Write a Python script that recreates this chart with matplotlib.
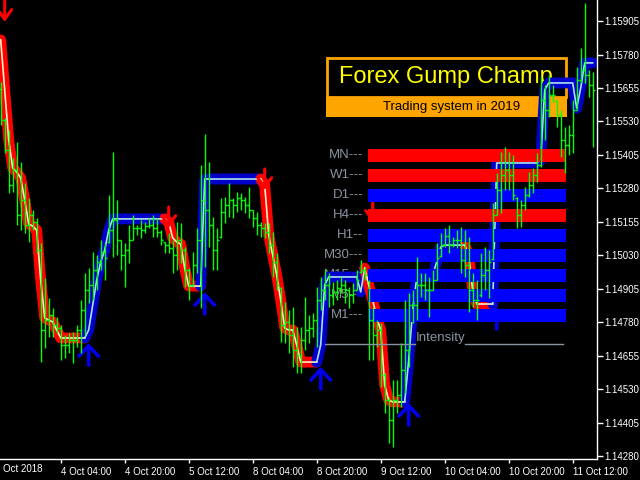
import matplotlib
matplotlib.use("Agg")
import matplotlib.pyplot as plt
from matplotlib.patches import Rectangle
import numpy as np

plt.rcParams['font.family'] = ['Liberation Sans', 'DejaVu Sans']

# EURUSD H1 bars (high / low / open / close)
highs = [1.15678, 1.15543, 1.15498, 1.15394, 1.15453, 1.15379, 1.15300, 1.15244, 1.15199, 1.15169,
         1.15076, 1.14945, 1.14870, 1.14833, 1.14799, 1.14769, 1.14732, 1.14740, 1.14743, 1.14769,
         1.14863, 1.14964, 1.14982, 1.15042, 1.15031, 1.15087, 1.15076, 1.15255, 1.15416, 1.15237,
         1.15087, 1.15076, 1.15143, 1.15181, 1.15143, 1.15162, 1.15154, 1.15169, 1.15181, 1.15169,
         1.15124, 1.15080, 1.15113, 1.15087, 1.15154, 1.15151, 1.15061, 1.14982, 1.15042, 1.15132,
         1.15367, 1.15483, 1.15379, 1.15173, 1.15132, 1.15244, 1.15248, 1.15300, 1.15244, 1.15266,
         1.15263, 1.15248, 1.15285, 1.15199, 1.15192, 1.15154, 1.15151, 1.15151, 1.15117, 1.15039,
         1.14911, 1.14855, 1.14826, 1.14837, 1.14762, 1.14762, 1.14874, 1.14807, 1.14814, 1.14911,
         1.14949, 1.14975, 1.14964, 1.14930, 1.14938, 1.14949, 1.14938, 1.14911, 1.14926, 1.14975,
         1.15012, 1.14986, 1.14938, 1.14837, 1.14788, 1.14777, 1.14590, 1.14500, 1.14564, 1.14564,
         1.14702, 1.14863, 1.14889, 1.14900, 1.15024, 1.14964, 1.14964, 1.14949, 1.14975, 1.15076,
         1.15113, 1.15132, 1.15143, 1.15098, 1.15124, 1.15136, 1.15124, 1.15098, 1.14964, 1.14938,
         1.15039, 1.15061, 1.15050, 1.15225, 1.15337, 1.15416, 1.15435, 1.15416, 1.15405, 1.15248,
         1.15237, 1.15285, 1.15341, 1.15356, 1.15412, 1.15696, 1.15666, 1.15704, 1.15666, 1.15610,
         1.15573, 1.15509, 1.15517, 1.15610, 1.15734, 1.15805, 1.15973, 1.15722, 1.15715]
lows = [1.15517, 1.15412, 1.15263, 1.15266, 1.15143, 1.15124, 1.15113, 1.15080, 1.15124, 1.15039,
        1.14631, 1.14684, 1.14725, 1.14725, 1.14740, 1.14639, 1.14646, 1.14665, 1.14627, 1.14687,
        1.14665, 1.14732, 1.14852, 1.14863, 1.14900, 1.14975, 1.14938, 1.15076, 1.15024, 1.15031,
        1.14975, 1.14911, 1.15001, 1.15087, 1.15106, 1.15095, 1.15113, 1.15132, 1.15098, 1.15098,
        1.15068, 1.15039, 1.15039, 1.14964, 1.14975, 1.15001, 1.14911, 1.14863, 1.14911, 1.14964,
        1.14833, 1.14986, 1.15061, 1.14975, 1.14975, 1.15095, 1.15151, 1.15173, 1.15169, 1.15192,
        1.15199, 1.15188, 1.15169, 1.15136, 1.15106, 1.15098, 1.15095, 1.15039, 1.14949, 1.14900,
        1.14706, 1.14702, 1.14665, 1.14613, 1.14590, 1.14590, 1.14676, 1.14702, 1.14725, 1.14687,
        1.14826, 1.14863, 1.14837, 1.14844, 1.14863, 1.14889, 1.14852, 1.14833, 1.14852, 1.14900,
        1.14964, 1.14938, 1.14639, 1.14639, 1.14687, 1.14538, 1.14441, 1.14329, 1.14314, 1.14441,
        1.14463, 1.14515, 1.14613, 1.14777, 1.14788, 1.14874, 1.14863, 1.14799, 1.14900, 1.14938,
        1.15024, 1.15061, 1.15039, 1.15061, 1.15057, 1.14964, 1.14949, 1.14818, 1.14837, 1.14788,
        1.14874, 1.14900, 1.14870, 1.15012, 1.15181, 1.15188, 1.15274, 1.15274, 1.15237, 1.15132,
        1.15136, 1.15199, 1.15248, 1.15263, 1.15304, 1.15360, 1.15461, 1.15547, 1.15603, 1.15509,
        1.15397, 1.15337, 1.15405, 1.15412, 1.15573, 1.15674, 1.15674, 1.15622, 1.15435]
opens = [1.15650, 1.15536, 1.15423, 1.15293, 1.15349, 1.15181, 1.15237, 1.15143, 1.15181, 1.15154,
         1.15050, 1.14751, 1.14788, 1.14807, 1.14769, 1.14758, 1.14695, 1.14695, 1.14713, 1.14713,
         1.14751, 1.14826, 1.14900, 1.14919, 1.14975, 1.15005, 1.15042, 1.15080, 1.15124, 1.15162,
         1.15087, 1.15031, 1.15050, 1.15087, 1.15132, 1.15132, 1.15124, 1.15139, 1.15143, 1.15132,
         1.15117, 1.15078, 1.15068, 1.15057, 1.15031, 1.15087, 1.15050, 1.14975, 1.14919, 1.14994,
         1.15087, 1.15237, 1.15199, 1.15143, 1.15050, 1.15100, 1.15192, 1.15218, 1.15237, 1.15218,
         1.15244, 1.15237, 1.15218, 1.15199, 1.15169, 1.15143, 1.15132, 1.15117, 1.15068, 1.15005,
         1.14908, 1.14769, 1.14781, 1.14732, 1.14676, 1.14657, 1.14713, 1.14751, 1.14758, 1.14788,
         1.14863, 1.14900, 1.14919, 1.14882, 1.14893, 1.14908, 1.14919, 1.14900, 1.14882, 1.14900,
         1.14968, 1.14975, 1.14935, 1.14788, 1.14732, 1.14751, 1.14583, 1.14489, 1.14414, 1.14489,
         1.14508, 1.14601, 1.14676, 1.14844, 1.14844, 1.14919, 1.14919, 1.14900, 1.14900, 1.14938,
         1.15026, 1.15068, 1.15102, 1.15068, 1.15087, 1.15087, 1.15012, 1.14994, 1.14900, 1.14863,
         1.14880, 1.14956, 1.14975, 1.15015, 1.15181, 1.15274, 1.15330, 1.15349, 1.15330, 1.15245,
         1.15181, 1.15218, 1.15255, 1.15293, 1.15330, 1.15367, 1.15610, 1.15573, 1.15629, 1.15605,
         1.15554, 1.15461, 1.15442, 1.15480, 1.15573, 1.15685, 1.15722, 1.15704, 1.15666]
closes = [1.15536, 1.15423, 1.15293, 1.15349, 1.15181, 1.15237, 1.15143, 1.15181, 1.15154, 1.15050,
          1.14751, 1.14788, 1.14807, 1.14769, 1.14758, 1.14695, 1.14695, 1.14713, 1.14713, 1.14751,
          1.14826, 1.14900, 1.14919, 1.14975, 1.15005, 1.15042, 1.15020, 1.15124, 1.15162, 1.15087,
          1.15031, 1.15050, 1.15087, 1.15132, 1.15132, 1.15124, 1.15139, 1.15143, 1.15132, 1.15117,
          1.15087, 1.15068, 1.15057, 1.15031, 1.15087, 1.15050, 1.14975, 1.14919, 1.14994, 1.15087,
          1.15237, 1.15199, 1.15143, 1.15050, 1.15087, 1.15192, 1.15218, 1.15237, 1.15218, 1.15244,
          1.15237, 1.15218, 1.15199, 1.15169, 1.15143, 1.15132, 1.15117, 1.15068, 1.15005, 1.14919,
          1.14769, 1.14781, 1.14732, 1.14676, 1.14657, 1.14713, 1.14751, 1.14758, 1.14788, 1.14863,
          1.14900, 1.14919, 1.14882, 1.14893, 1.14908, 1.14919, 1.14900, 1.14882, 1.14900, 1.14938,
          1.14975, 1.14956, 1.14788, 1.14732, 1.14751, 1.14583, 1.14489, 1.14414, 1.14489, 1.14508,
          1.14601, 1.14676, 1.14844, 1.14844, 1.14919, 1.14919, 1.14900, 1.14900, 1.14938, 1.15020,
          1.15068, 1.15102, 1.15068, 1.15087, 1.15087, 1.15012, 1.14994, 1.14900, 1.14863, 1.14863,
          1.14956, 1.14975, 1.15005, 1.15181, 1.15274, 1.15330, 1.15349, 1.15330, 1.15255, 1.15181,
          1.15218, 1.15255, 1.15293, 1.15330, 1.15367, 1.15610, 1.15573, 1.15629, 1.15629, 1.15554,
          1.15461, 1.15442, 1.15480, 1.15573, 1.15685, 1.15722, 1.15704, 1.15666, 1.15648]

# Forex Gump trailing line, and its up (1) / down (-1) runs: (first bar, last bar, direction)
gump = [1.15835, 1.15648, 1.15461, 1.15356, 1.15341, 1.15319, 1.15237, 1.15147, 1.15139, 1.15124,
        1.14938, 1.14796, 1.14788, 1.14781, 1.14751, 1.14721, 1.14721, 1.14721, 1.14721, 1.14721,
        1.14721, 1.14721, 1.14751, 1.14844, 1.14938, 1.15005, 1.15050, 1.15124, 1.15166, 1.15166,
        1.15166, 1.15166, 1.15166, 1.15166, 1.15166, 1.15166, 1.15166, 1.15166, 1.15166, 1.15166,
        1.15166, 1.15166, 1.15154, 1.15095, 1.15080, 1.15072, 1.14982, 1.14915, 1.14915, 1.14915,
        1.14915, 1.15315, 1.15315, 1.15315, 1.15315, 1.15315, 1.15315, 1.15315, 1.15315, 1.15315,
        1.15315, 1.15315, 1.15315, 1.15315, 1.15315, 1.15315, 1.15293, 1.15106, 1.15031, 1.14956,
        1.14863, 1.14758, 1.14751, 1.14751, 1.14695, 1.14631, 1.14631, 1.14631, 1.14631, 1.14631,
        1.14695, 1.14919, 1.14949, 1.14949, 1.14949, 1.14949, 1.14949, 1.14949, 1.14949, 1.14949,
        1.14893, 1.14982, 1.14919, 1.14863, 1.14796, 1.14751, 1.14545, 1.14489, 1.14482, 1.14482,
        1.14482, 1.14482, 1.14639, 1.14826, 1.14945, 1.14956, 1.14956, 1.14956, 1.14956, 1.15005,
        1.15061, 1.15068, 1.15068, 1.15068, 1.15068, 1.15068, 1.15068, 1.15031, 1.14900, 1.14848,
        1.14848, 1.14848, 1.14848, 1.14848, 1.15375, 1.15375, 1.15375, 1.15375, 1.15375, 1.15375,
        1.15375, 1.15375, 1.15375, 1.15375, 1.15375, 1.15386, 1.15648, 1.15674, 1.15674, 1.15674,
        1.15674, 1.15674, 1.15674, 1.15674, 1.15580, 1.15655, 1.15749, 1.15749, 1.15749]
trend_runs = [(0, 21, -1), (22, 41, 1), (42, 50, -1), (51, 65, 1), (66, 79, -1),
              (80, 91, 1), (92, 101, -1), (102, 116, 1), (117, 123, -1), (124, 148, 1)]

# signal arrows (bar, price at the arrow tip)
sell_bars = [1, 42, 66, 93]
sell_tips = [1.15902, 1.15132, 1.15274, 1.15151]
buy_bars = [22, 51, 80, 102, 124]
buy_tips = [1.14702, 1.14893, 1.14613, 1.14478, 1.14837]

# time axis
tick_bars = [15, 31, 47, 63, 79, 95, 111, 127, 143]
tick_labels = ['4 Oct 04:00', '4 Oct 20:00', '5 Oct 12:00', '8 Oct 04:00', '8 Oct 20:00',
               '9 Oct 12:00', '10 Oct 04:00', '10 Oct 20:00', '11 Oct 12:00']
price_ticks = [1.14280, 1.14405, 1.14530, 1.14655, 1.14780, 1.14905, 1.15030,
               1.15155, 1.15280, 1.15405, 1.15530, 1.15655, 1.15780, 1.15905]

# multi timeframe panel
tf_labels = ['MN---', 'W1---', 'D1---', 'H4---', 'H1--', 'M30---', 'M15---', 'M5---', 'M1---']
tf_dirs = [-1, -1, 1, -1, 1, 1, 1, 1, 1]

RED, BLUE = '#FF0000', '#0000FF'
GRAY = '#8A94A0'
ORANGE = '#FFA500'

fig = plt.figure(figsize=(6.4, 4.8), dpi=100, facecolor='black')
ax = fig.add_axes([0, 21 / 480, 597 / 640, 459 / 480])
ax.set_facecolor('black')

x = np.arange(len(highs))

# price bars
ax.vlines(x, lows, highs, colors='#00FF00', lw=1, zorder=4)
ax.hlines(opens, x - 0.5, x, colors='#00FF00', lw=1, zorder=4)
ax.hlines(closes, x, x + 0.5, colors='#00FF00', lw=1, zorder=4)

# trailing line
thick = {1: '#0000CD', -1: RED}
core = {1: '#A8E4F0', -1: '#FFF0C0'}
for start, end, d in trend_runs:
    s = max(start - 1, 0)
    ax.plot(x[s:end + 1], gump[s:end + 1], color=thick[d], lw=7.8,
            solid_capstyle='round', solid_joinstyle='round', zorder=2)
for start, end, d in trend_runs:
    s = max(start - 1, 0)
    ax.plot(x[s:end + 1], gump[s:end + 1], color=core[d], lw=1.2, zorder=2.1)

# arrows
for b, p in zip(sell_bars, sell_tips):
    ax.annotate('', xy=(b, p), xytext=(0, 21), textcoords='offset pixels',
                arrowprops=dict(arrowstyle='->,head_length=0.7,head_width=0.5',
                                color=RED, lw=2.2, shrinkA=0, shrinkB=0), zorder=2.5)
for b, p in zip(buy_bars, buy_tips):
    ax.annotate('', xy=(b, p), xytext=(0, -22), textcoords='offset pixels',
                arrowprops=dict(arrowstyle='->,head_length=0.75,head_width=0.7',
                                color='#0000EE', lw=2.6, shrinkA=0, shrinkB=0), zorder=2.5)

ax.set_xlim(-0.175, 149.075)
ax.set_ylim(1.142688, 1.159840)

# axes styling (MT4 look)
for side in ['left', 'top']:
    ax.spines[side].set_visible(False)
for side in ['right', 'bottom']:
    ax.spines[side].set_color('white')
    ax.spines[side].set_linewidth(1)
ax.yaxis.tick_right()
ax.set_yticks(price_ticks)
ax.set_yticklabels(['%.5f' % v for v in price_ticks])
ax.set_xticks(tick_bars)
ax.set_xticklabels(tick_labels, ha='left')
ax.tick_params(axis='y', colors='white', labelsize=7, length=4, width=1, pad=1.5)
ax.tick_params(axis='x', colors='white', labelsize=7, length=3, width=1, pad=3)
ax.text(0.005, -0.022, 'Oct 2018', transform=ax.transAxes, color='white',
        fontsize=7, va='center', ha='left')

# overlay panel, placed in chart pixels
W, H = 597.0, 459.0


def pos(px, py):
    return px / W, 1 - py / H


tr = ax.transAxes
ax.add_patch(Rectangle(pos(326, 117), 241 / W, 20 / H, fc=ORANGE, ec='none',
                       transform=tr, zorder=1))
ax.add_patch(Rectangle(pos(327.5, 97), 238.5 / W, 39 / H, fill=False, ec=ORANGE, lw=2,
                       transform=tr, zorder=1))
ax.text(*pos(446, 77), 'Forex Gump Champ', transform=tr, color='#FFFF00', fontsize=17,
        ha='center', va='center', zorder=1.2)
ax.text(*pos(452, 107), 'Trading system in 2019', transform=tr, color='black', fontsize=9.5,
        ha='center', va='center', zorder=1.2)

for i, (lab, d) in enumerate(zip(tf_labels, tf_dirs)):
    top = 149 + 20 * i
    ax.add_patch(Rectangle(pos(368, top + 13), 198 / W, 13 / H,
                           fc=BLUE if d > 0 else RED, ec='none', transform=tr, zorder=3))
    ax.text(*pos(363, top + 6.5), lab, transform=tr, color=GRAY, fontsize=9.5,
            ha='right', va='center', zorder=1.5)

ax.text(*pos(416, 338), 'Intensity', transform=tr, color=GRAY, fontsize=9.5,
        ha='left', va='center', zorder=5)
ax.plot([325 / W, 415 / W], [1 - 344 / H] * 2, transform=tr, color=GRAY, lw=1, zorder=5)
ax.plot([465 / W, 563 / W], [1 - 344 / H] * 2, transform=tr, color=GRAY, lw=1, zorder=5)

fig.savefig('out.png', dpi=100, facecolor='black')
